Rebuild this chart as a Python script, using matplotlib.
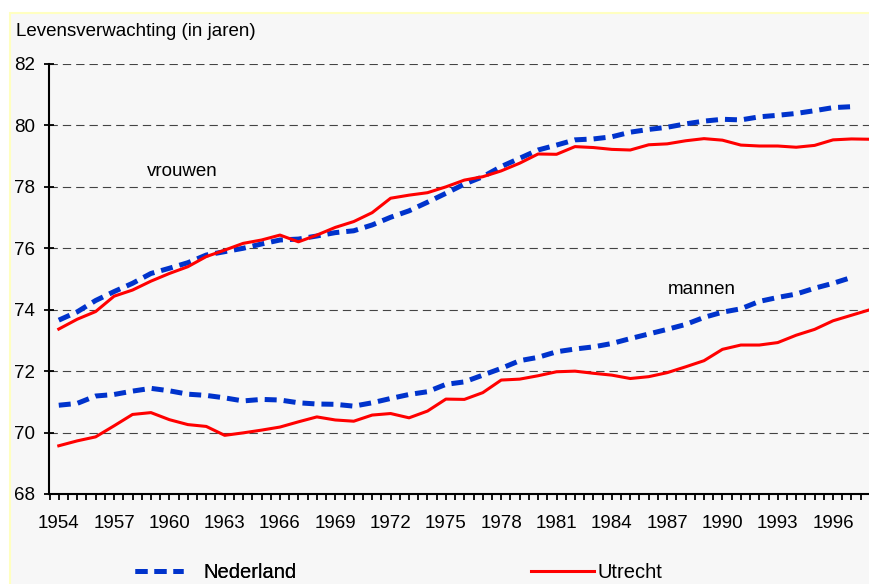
import numpy as np
import matplotlib.pyplot as plt
from matplotlib.lines import Line2D
from matplotlib.patches import Rectangle
from matplotlib.ticker import MultipleLocator

plt.rcParams['font.family'] = ['Liberation Sans', 'DejaVu Sans']

# levensverwachting bij geboorte
years_nl = np.arange(1954, 1998)
years_ut = np.arange(1954, 1999)

nl_vrouwen = [73.66, 73.93, 74.30, 74.59, 74.86, 75.18, 75.35, 75.53, 75.78, 75.89,
              76.00, 76.14, 76.27, 76.30, 76.40, 76.51, 76.57, 76.76, 77.01, 77.22,
              77.50, 77.79, 78.09, 78.33, 78.66, 78.93, 79.20, 79.36, 79.53, 79.56,
              79.63, 79.78, 79.87, 79.94, 80.05, 80.14, 80.20, 80.18, 80.28, 80.33,
              80.39, 80.48, 80.58, 80.61]
ut_vrouwen = [73.37, 73.69, 73.94, 74.44, 74.64, 74.93, 75.18, 75.40, 75.73, 75.94,
              76.16, 76.27, 76.43, 76.21, 76.43, 76.68, 76.87, 77.16, 77.63, 77.73,
              77.81, 78.00, 78.22, 78.33, 78.52, 78.77, 79.07, 79.06, 79.31, 79.28,
              79.22, 79.20, 79.37, 79.40, 79.50, 79.57, 79.52, 79.36, 79.33, 79.33,
              79.29, 79.35, 79.53, 79.56, 79.55]
nl_mannen = [70.89, 70.95, 71.19, 71.24, 71.35, 71.44, 71.36, 71.25, 71.21, 71.13,
             71.03, 71.08, 71.06, 70.97, 70.93, 70.92, 70.86, 70.97, 71.11, 71.24,
             71.33, 71.57, 71.65, 71.87, 72.09, 72.34, 72.45, 72.63, 72.72, 72.79,
             72.90, 73.06, 73.21, 73.36, 73.52, 73.75, 73.92, 74.03, 74.27, 74.40,
             74.51, 74.70, 74.86, 75.05]
ut_mannen = [69.57, 69.73, 69.86, 70.22, 70.59, 70.65, 70.42, 70.26, 70.20, 69.91,
             69.99, 70.08, 70.18, 70.35, 70.51, 70.41, 70.37, 70.57, 70.62, 70.48,
             70.70, 71.09, 71.08, 71.30, 71.71, 71.74, 71.85, 71.98, 72.00, 71.93,
             71.87, 71.76, 71.82, 71.95, 72.14, 72.34, 72.71, 72.85, 72.85, 72.93,
             73.17, 73.36, 73.64, 73.82, 74.00]

blue = '#0033CC'
red = '#FF0000'
bg = '#F7F7F7'
fs = 13.5

fig = plt.figure(figsize=(8.69, 5.84), dpi=100)
fig.patch.set_facecolor('white')
fig.patches.append(Rectangle((10/869, -0.1), 1.2, 1 - 13/584 + 0.1,
                             transform=fig.transFigure, facecolor=bg,
                             edgecolor='#FFFFC0', lw=1.5, zorder=-1))

ax = fig.add_axes([49/869, 90/584, 1 - 49/869, 430/584])
ax.set_facecolor(bg)

ax.plot(years_nl, nl_vrouwen, color=blue, lw=3.6, dashes=(2.4, 1.4), solid_capstyle='butt')
ax.plot(years_ut, ut_vrouwen, color=red, lw=2.2)
ax.plot(years_nl, nl_mannen, color=blue, lw=3.6, dashes=(2.4, 1.4), solid_capstyle='butt')
ax.plot(years_ut, ut_mannen, color=red, lw=2.2)

ax.set_xlim(1953.47, 1997.95)
ax.set_ylim(68, 82)
ax.set_yticks(np.arange(68, 83, 2))
ax.set_xticks(np.arange(1954, 1998, 3))
ax.xaxis.set_minor_locator(MultipleLocator(0.5))

for y in range(70, 83, 2):
    ax.axhline(y, color='#444444', lw=0.8, ls=(0, (7.5, 4.5)), zorder=0)

for s in ['top', 'right']:
    ax.spines[s].set_visible(False)
ax.spines['left'].set_linewidth(1.5)
ax.spines['bottom'].set_linewidth(1.5)

ax.tick_params(axis='y', direction='inout', length=7, width=1.3, labelsize=fs, pad=6.5)
ax.tick_params(axis='x', which='both', direction='out', length=4, width=1.3,
               labelsize=fs, pad=11)

ax.text(1960.7, 78.5, 'vrouwen', fontsize=fs, ha='center', va='center')
ax.text(1988.9, 74.65, 'mannen', fontsize=fs, ha='center', va='center')

fig.text(16/869, 1 - 31/584, 'Levensverwachting (in jaren)', fontsize=fs,
         ha='left', va='center')

h_nl = Line2D([], [], color=blue, lw=3.6, dashes=(2.4, 1.4))
h_ut = Line2D([], [], color=red, lw=2.2)
leg1 = fig.legend([h_nl], ['Nederland'], loc='center left', frameon=False,
                  bbox_to_anchor=(119/869, 11/584), fontsize=14.5,
                  handlelength=2.4, handletextpad=1.0, borderpad=0.3)
fig.add_artist(leg1)
fig.legend([h_ut], ['Utrecht'], loc='center left', frameon=False,
           bbox_to_anchor=(515/869, 11/584), fontsize=14.5,
           handlelength=3.1, handletextpad=0.2, borderpad=0.3)

fig.savefig('out.png', dpi=100)
